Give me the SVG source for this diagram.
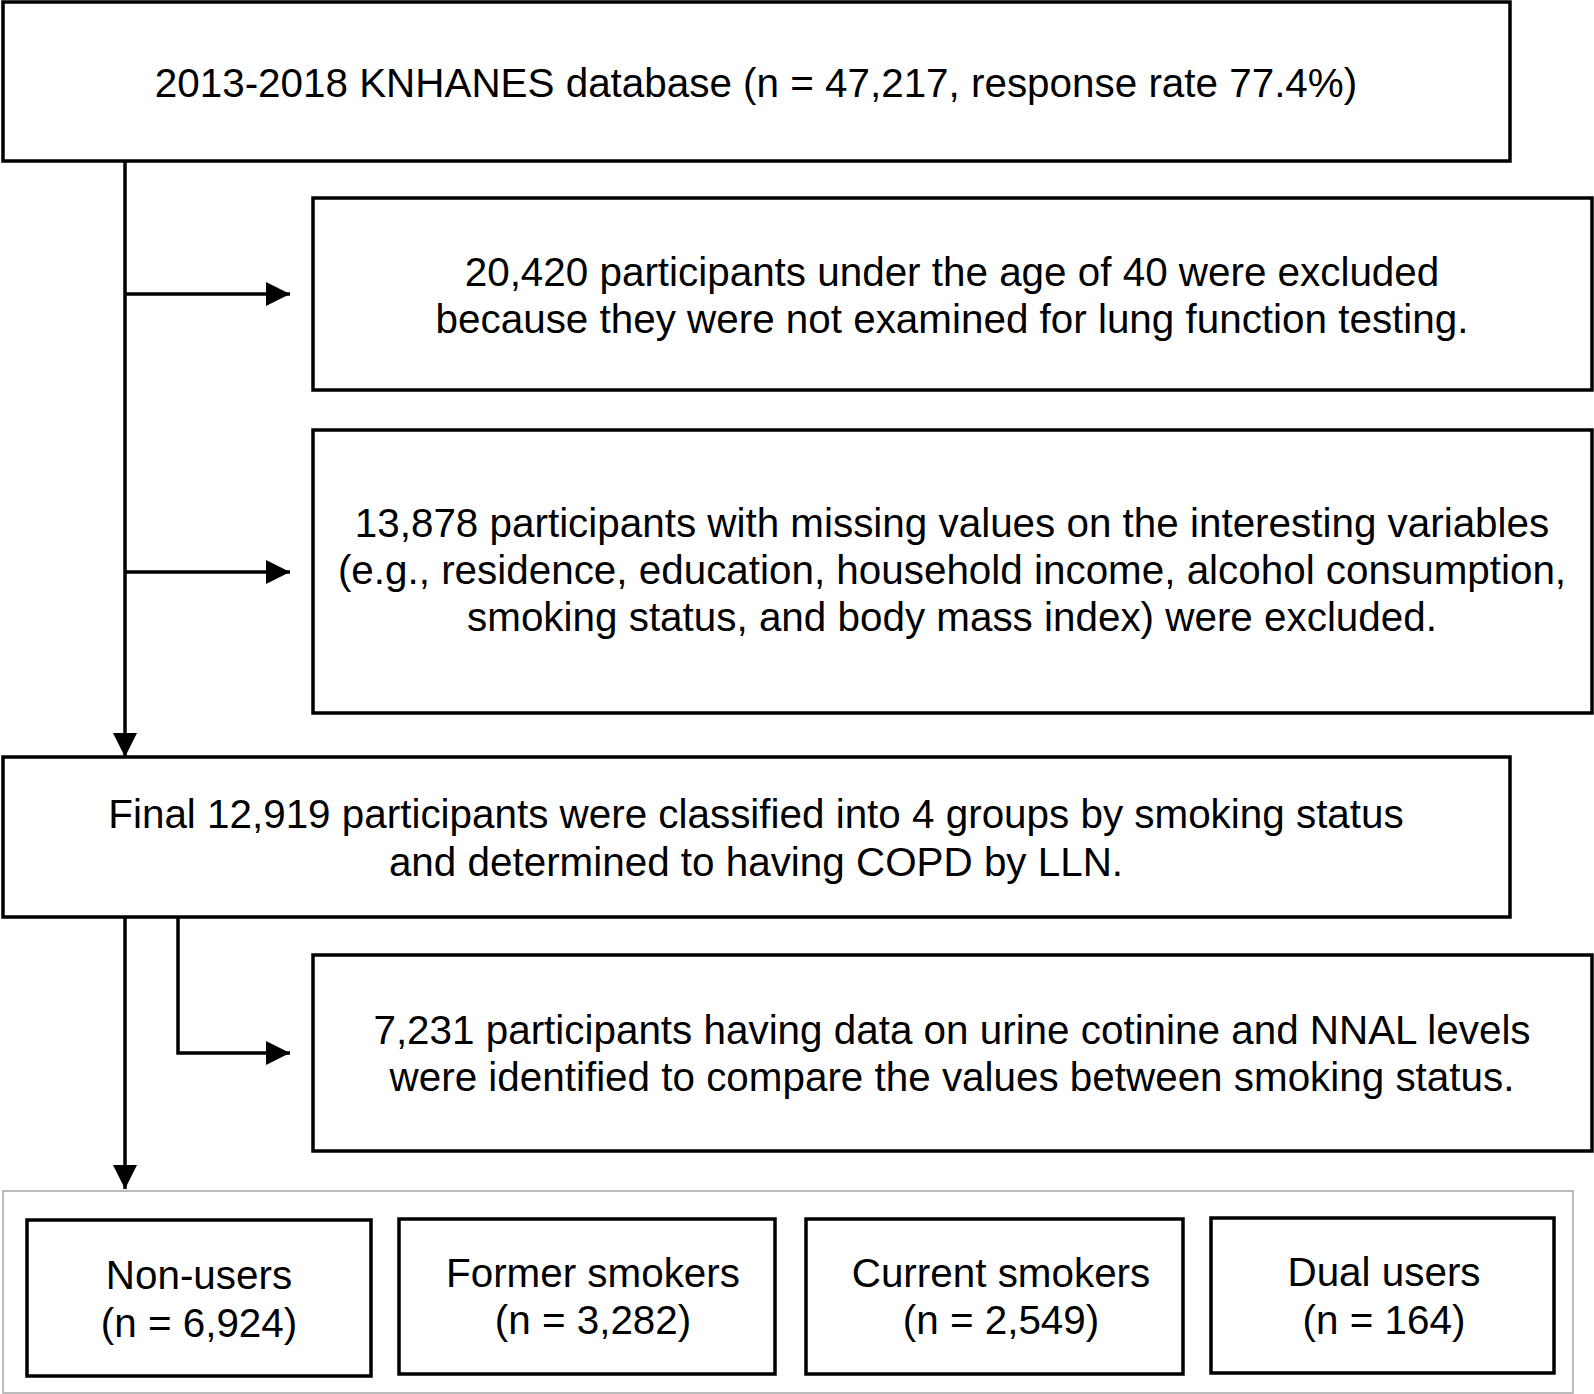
<svg xmlns="http://www.w3.org/2000/svg" width="1594" height="1394" viewBox="0 0 1594 1394">
<style>
.box{fill:#fff;stroke:#000;stroke-width:3.5}
.cont{fill:#fff;stroke:#b4b4b4;stroke-width:1.8}
.t{font-family:"Liberation Sans",Arial,sans-serif;font-size:40.4px;fill:#000;text-anchor:middle}
.c{fill:none;stroke:#000;stroke-width:3.5}
</style>
<defs>
<marker id="ah" markerUnits="userSpaceOnUse" markerWidth="24" markerHeight="24" viewBox="0 0 22 22" refX="22" refY="11" orient="auto">
<path d="M0,0 L22,11 L0,22 Z" fill="#000"/>
</marker>
</defs>
<rect width="1594" height="1394" fill="#fff"/>
<g id="n-database">
<rect class="box" x="3" y="2" width="1507" height="159"/>
<text class="t" x="756" y="97">2013-2018 KNHANES database (n = 47,217, response rate 77.4%)</text>
</g>
<g id="n-age">
<rect class="box" x="313" y="198" width="1279" height="192"/>
<text class="t" x="952" y="286">20,420 participants under the age of 40 were excluded</text>
<text class="t" x="952" y="333">because they were not examined for lung function testing.</text>
</g>
<g id="n-missing">
<rect class="box" x="313" y="430" width="1279" height="283"/>
<text class="t" x="952" y="537">13,878 participants with missing values on the interesting variables</text>
<text class="t" x="952" y="584">(e.g., residence, education, household income, alcohol consumption,</text>
<text class="t" x="952" y="631">smoking status, and body mass index) were excluded.</text>
</g>
<g id="n-final">
<rect class="box" x="3" y="757" width="1507" height="160"/>
<text class="t" x="756" y="828">Final 12,919 participants were classified into 4 groups by smoking status</text>
<text class="t" x="756" y="876">and determined to having COPD by LLN.</text>
</g>
<g id="n-cotinine">
<rect class="box" x="313" y="955" width="1279" height="196"/>
<text class="t" x="952" y="1044">7,231 participants having data on urine cotinine and NNAL levels</text>
<text class="t" x="952" y="1091">were identified to compare the values between smoking status.</text>
</g>
<g id="n-groups">
<rect class="cont" x="3" y="1191" width="1570" height="202"/>
</g>
<g id="n-nonusers">
<rect class="box" x="27" y="1220" width="344" height="156"/>
<text class="t" x="199" y="1289">Non-users</text>
<text class="t" x="199" y="1337">(n = 6,924)</text>
</g>
<g id="n-former">
<rect class="box" x="399" y="1219" width="376" height="155"/>
<text class="t" x="593" y="1287">Former smokers</text>
<text class="t" x="593" y="1334">(n = 3,282)</text>
</g>
<g id="n-current">
<rect class="box" x="806" y="1219" width="377" height="155"/>
<text class="t" x="1001" y="1287">Current smokers</text>
<text class="t" x="1001" y="1334">(n = 2,549)</text>
</g>
<g id="n-dual">
<rect class="box" x="1211" y="1218" width="343" height="155"/>
<text class="t" x="1384" y="1286">Dual users</text>
<text class="t" x="1384" y="1334">(n = 164)</text>
</g>
<g id="connectors">
<path class="c" d="M125,161 V757" marker-end="url(#ah)"/>
<path class="c" d="M125,294 H290" marker-end="url(#ah)"/>
<path class="c" d="M125,572 H290" marker-end="url(#ah)"/>
<path class="c" d="M125,917 V1189" marker-end="url(#ah)"/>
<path class="c" d="M178,917 V1053 H290" marker-end="url(#ah)"/>
</g>
</svg>
